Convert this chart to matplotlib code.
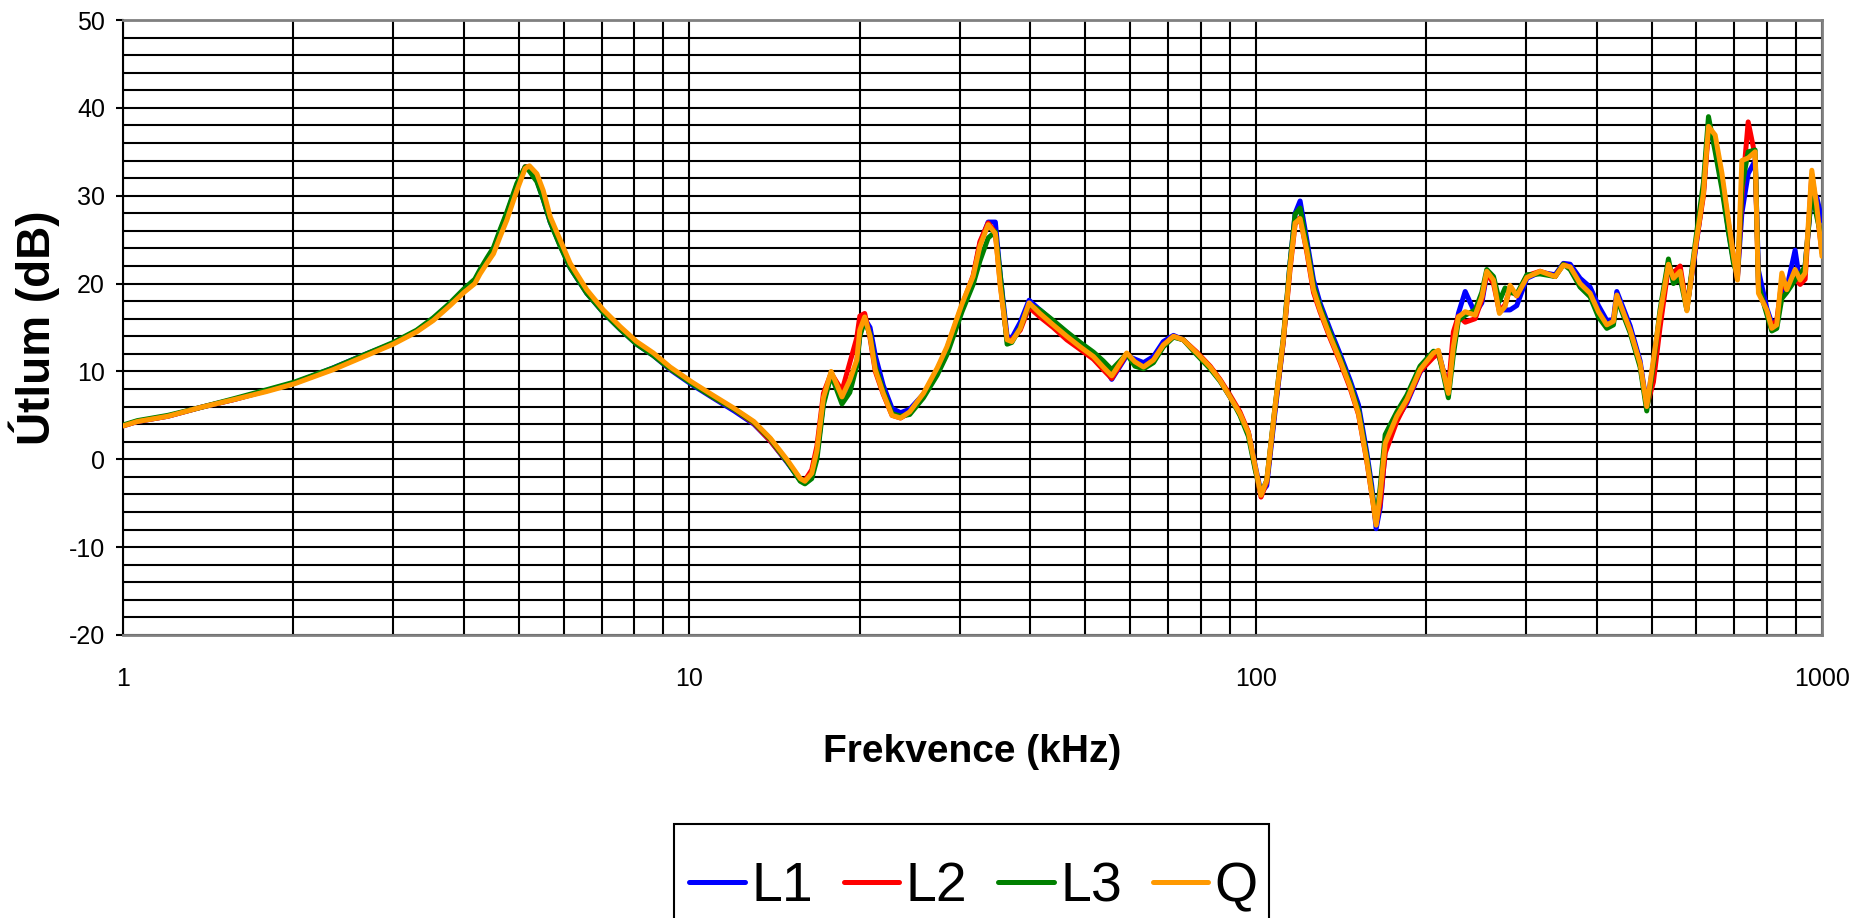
import matplotlib
matplotlib.use('Agg')
import matplotlib.pyplot as plt
from matplotlib.patches import Rectangle
from matplotlib.ticker import FixedLocator, MultipleLocator, LogLocator, NullFormatter, FixedFormatter

plt.rcParams['font.family'] = ['Liberation Sans', 'DejaVu Sans']
plt.rcParams['axes.unicode_minus'] = False

# ---------------- data ----------------
freq_khz = [
    1.00, 1.06, 1.20, 1.37, 1.57, 1.79, 2.01, 2.35, 2.69, 3.00, 3.30, 3.53, 3.78, 4.00,
    4.18, 4.27, 4.39, 4.51, 4.63, 4.76, 4.96, 5.13, 5.22, 5.38, 5.52, 5.68, 5.91, 6.16,
    6.59, 7.05, 7.55, 8.07, 8.64, 9.25,
    10.1, 11.0, 12.0, 13.0, 13.9, 14.9, 15.7, 16.0, 16.45, 16.8, 17.25, 17.8, 18.6, 19.2,
    19.75, 20.0, 20.4, 20.85, 21.3, 22.0, 22.8, 23.6, 24.5, 25.9, 27.4, 28.5, 30.3, 31.7,
    32.6, 33.7, 34.7, 35.4, 36.4, 37.1, 38.4, 39.8, 41.6, 43.9, 46.4, 49.0, 51.7, 53.8,
    55.7, 59.2, 61.2, 63.4, 66.0, 68.7, 71.6, 74.5, 78.7, 83.1, 86.5, 90.1, 93.8, 97.1,
    99.8,
    102.2, 104.6, 108.2, 111.9, 115.0, 117.4, 119.8, 123.1, 126.5, 129.9, 135.3, 140.9,
    146.8, 151.9, 157.1, 160.3, 163.2, 165.9, 169.3, 177.5, 184.9, 195.1, 206.0, 210.2,
    218.9, 223.4, 228.0, 234.4, 244.1, 250.8, 255.9, 263.0, 269.4, 275.7, 281.3, 289.1,
    301.2, 317.9, 337.9, 349.4, 359.2, 374.0, 389.5, 402.9, 416.9, 428.3, 434.2, 458.3,
    477.3, 490.4, 503.9, 517.6, 535.6, 546.6, 561.7, 577.3, 597.0, 617.5, 630.3, 647.7,
    665.6, 683.8, 697.8, 709.2, 721.9, 740.7, 762.0, 772.3, 798.9, 815.3, 832.1, 849.2,
    866.7, 896.4, 915.0, 933.7, 959.4, 979.0, 1000.0,
]

q_db = [
    3.8, 4.3, 4.9, 5.9, 6.8, 7.7, 8.6, 10.2, 11.8, 13.1, 14.5, 15.8, 17.5, 19.0,
    20.0, 21.1, 22.3, 23.4, 25.3, 27.2, 30.6, 33.1, 33.4, 32.5, 30.6, 27.6, 25.0, 22.3,
    19.3, 17.0, 15.1, 13.4, 12.1, 10.5,
    8.8, 7.3, 5.8, 4.3, 2.4, -0.1, -2.2, -2.5, -1.6, 1.0, 7.0, 10.0, 7.1, 9.0,
    11.3, 14.7, 16.2, 14.0, 10.2, 7.5, 5.0, 4.7, 5.4, 7.5, 10.4, 12.8, 17.7, 20.8,
    24.3, 26.7, 25.7, 19.7, 13.6, 13.4, 14.9, 17.8, 16.6, 15.3, 14.0, 12.8, 11.7, 10.5,
    9.5, 12.1, 11.1, 10.5, 11.3, 13.0, 14.0, 13.6, 12.1, 10.5, 9.0, 7.1, 5.2, 3.0,
    -0.8,
    -4.1, -2.4, 6.0, 13.6, 21.9, 26.9, 27.4, 23.8, 19.3, 17.0, 14.0, 11.3,
    8.3, 5.2, -0.1, -3.9, -7.5, -3.9, 1.8, 4.9, 6.8, 10.2, 12.1, 12.4,
    7.5, 12.8, 16.2, 16.8, 16.4, 18.5, 21.4, 20.4, 16.6, 17.4, 19.8, 18.6,
    20.7, 21.4, 20.8, 22.1, 21.9, 20.0, 18.9, 16.8, 15.3, 15.7, 18.7, 14.7,
    10.9, 6.0, 11.3, 16.6, 22.2, 20.6, 21.4, 16.9, 24.0, 30.3, 37.9, 36.9,
    32.6, 27.2, 23.1, 20.4, 34.0, 34.3, 35.0, 18.9, 17.0, 14.9, 15.3, 21.2,
    19.3, 21.6, 20.4, 21.2, 32.9, 28.8, 23.1,
]

l1_db = [
    3.8, 4.3, 4.9, 5.9, 6.8, 7.8, 8.7, 10.4, 12.0, 13.2, 14.6, 16.0, 17.7, 19.2,
    20.3, 21.4, 22.7, 23.9, 25.9, 27.9, 31.2, 33.2, 33.2, 31.8, 29.6, 27.0, 24.4, 21.8,
    18.9, 16.7, 14.8, 13.1, 11.8, 10.2,
    8.5, 7.0, 5.5, 4.0, 2.1, -0.4, -2.4, -2.5, -1.8, 0.5, 6.5, 9.8, 7.0, 8.8,
    11.0, 14.2, 16.0, 15.0, 11.8, 8.4, 5.8, 5.3, 5.7, 7.4, 10.0, 12.4, 17.3, 20.6,
    24.6, 27.0, 27.0, 21.0, 14.0, 13.8, 15.6, 18.1, 17.0, 15.7, 14.4, 13.0, 12.1, 10.8,
    9.1, 11.8, 11.4, 11.0, 11.7, 13.4, 14.1, 13.6, 12.1, 10.5, 9.0, 7.1, 5.2, 3.0,
    -0.7,
    -3.8, -3.0, 5.4, 13.4, 22.3, 28.0, 29.4, 25.0, 20.4, 17.8, 14.8, 12.0,
    9.0, 6.2, 0.8, -3.0, -7.9, -5.5, 1.0, 4.6, 6.4, 9.9, 11.9, 12.3,
    7.8, 12.5, 16.6, 19.1, 16.6, 17.8, 21.1, 20.6, 17.0, 17.0, 17.0, 17.5,
    20.6, 21.3, 21.0, 22.3, 22.2, 20.6, 19.6, 17.5, 15.8, 15.9, 19.1, 15.2,
    11.2, 6.1, 11.0, 16.4, 22.0, 20.5, 21.2, 17.3, 23.5, 30.5, 38.0, 35.5,
    31.5, 26.0, 22.6, 20.8, 28.0, 32.5, 34.0, 21.5, 17.2, 15.5, 15.8, 18.8,
    19.5, 23.8, 20.0, 22.0, 30.5, 29.8, 27.2,
]

l2_db = [
    3.8, 4.3, 4.9, 5.9, 6.8, 7.8, 8.7, 10.3, 11.9, 13.2, 14.6, 15.9, 17.6, 19.2,
    20.3, 21.4, 22.6, 23.8, 25.8, 27.8, 31.1, 33.3, 33.3, 32.0, 30.0, 27.2, 24.6, 22.0,
    19.0, 16.8, 14.9, 13.2, 11.9, 10.3,
    8.7, 7.1, 5.7, 4.1, 2.1, -0.3, -2.3, -2.4, -1.2, 1.5, 7.5, 9.8, 7.8, 11.0,
    13.8, 16.3, 16.6, 13.8, 10.0, 7.4, 5.0, 4.7, 5.3, 7.3, 10.2, 12.6, 17.5, 20.9,
    24.8, 26.9, 25.8, 20.0, 13.5, 13.6, 14.7, 17.3, 16.2, 15.0, 13.6, 12.5, 11.4, 10.2,
    9.2, 12.0, 11.0, 10.5, 11.3, 13.0, 14.0, 13.6, 12.2, 10.6, 9.1, 7.3, 5.4, 3.1,
    -1.0,
    -4.3, -2.6, 5.8, 13.4, 21.6, 26.8, 27.5, 23.6, 19.0, 16.8, 13.8, 11.1,
    8.1, 5.1, -0.2, -4.0, -7.3, -5.0, 0.7, 4.3, 6.6, 10.0, 11.6, 12.0,
    8.0, 14.5, 16.3, 15.6, 16.0, 18.2, 21.2, 20.0, 16.8, 17.6, 19.4, 18.6,
    20.9, 21.4, 20.8, 22.2, 21.8, 19.7, 18.8, 16.5, 15.2, 15.6, 18.5, 14.6,
    10.8, 6.0, 8.8, 15.0, 21.9, 21.2, 22.0, 17.1, 23.8, 30.0, 37.5, 36.0,
    32.0, 26.8, 23.0, 20.6, 30.0, 38.4, 34.5, 19.5, 16.8, 15.2, 15.8, 20.3,
    19.3, 20.5, 19.9, 20.5, 32.4, 28.4, 23.5,
]

l3_db = [
    3.9, 4.4, 5.0, 5.9, 6.9, 7.9, 8.8, 10.4, 12.0, 13.3, 14.7, 16.1, 17.8, 19.4,
    20.5, 21.6, 22.9, 24.1, 26.1, 28.1, 31.4, 33.3, 32.8, 31.6, 29.6, 27.0, 24.3, 21.8,
    18.9, 16.7, 14.8, 13.1, 11.8, 10.3,
    8.6, 7.1, 5.7, 4.2, 2.3, -0.3, -2.5, -2.8, -2.2, 0.0, 6.2, 9.6, 6.3, 7.6,
    10.6, 14.0, 15.8, 14.2, 10.6, 7.8, 5.2, 4.9, 5.1, 7.0, 9.6, 11.9, 16.8, 19.9,
    22.6, 25.2, 25.9, 21.0, 13.1, 13.3, 15.0, 17.6, 17.0, 15.8, 14.5, 13.3, 12.2, 11.2,
    10.2, 12.0, 10.6, 10.3, 11.0, 12.8, 13.9, 13.6, 11.9, 10.3, 8.9, 7.1, 5.0, 2.6,
    -1.2,
    -3.9, -2.4, 6.0, 13.8, 22.4, 27.9, 28.6, 24.4, 19.8, 17.4, 14.4, 11.6,
    8.6, 5.6, 0.3, -3.6, -7.0, -3.2, 2.8, 5.4, 7.3, 10.6, 12.3, 12.2,
    7.0, 11.9, 15.8, 16.4, 17.0, 19.0, 21.6, 20.8, 18.0, 19.5, 19.0, 18.8,
    21.0, 21.1, 20.8, 22.2, 21.6, 19.6, 18.5, 16.2, 14.9, 15.3, 18.3, 14.4,
    10.5, 5.5, 10.8, 17.0, 22.8, 20.0, 20.6, 17.0, 24.5, 31.5, 39.0, 35.0,
    30.8, 25.8, 22.3, 21.0, 31.0, 35.0, 35.2, 19.8, 16.5, 14.6, 14.9, 18.3,
    19.0, 20.4, 21.0, 22.0, 30.6, 27.6, 25.0,
]

series_names = ['L1', 'L2', 'L3', 'Q']
series_colors = ['#0000FF', '#FF0000', '#008000', '#FF9900']
x_tick_values = [1, 10, 100, 1000]
x_tick_labels = ['1', '10', '100', '1000']
y_tick_values = [-20, -10, 0, 10, 20, 30, 40, 50]
x_label = 'Frekvence (kHz)'
y_label = 'Útlum (dB)'

# ---------------- figure ----------------
W, H = 1851, 918
fig = plt.figure(figsize=(W / 100, H / 100), dpi=100)
ax = fig.add_axes([123 / W, 1 - 635 / H, (1822 - 123) / W, (635 - 20) / H])

for vals, name, color in zip([l1_db, l2_db, l3_db, q_db], series_names, series_colors):
    ax.plot(freq_khz, vals, color=color, lw=3.6, label=name,
            solid_joinstyle='round', solid_capstyle='round', zorder=3)

ax.set_xscale('log')
ax.set_xlim(1, 1000)
ax.set_ylim(-20, 50)

ax.xaxis.set_major_locator(FixedLocator(x_tick_values))
ax.xaxis.set_major_formatter(FixedFormatter(x_tick_labels))
ax.xaxis.set_minor_locator(LogLocator(base=10, subs=[2, 3, 4, 5, 6, 7, 8, 9], numticks=20))
ax.xaxis.set_minor_formatter(NullFormatter())
ax.yaxis.set_major_locator(FixedLocator(y_tick_values))
ax.yaxis.set_minor_locator(MultipleLocator(2))

ax.set_axisbelow(True)
ax.grid(True, which='both', axis='both', color='black', lw=1.5)

ax.tick_params(axis='x', which='both', length=0, pad=23, labelsize=18)
ax.tick_params(axis='y', which='major', length=5, width=1.5, direction='out',
               pad=8, labelsize=18, color='black')
ax.tick_params(axis='y', which='minor', length=0)

for side in ['top', 'right', 'bottom']:
    ax.spines[side].set_color('#808080')
    ax.spines[side].set_linewidth(2)
ax.spines['left'].set_color('black')
ax.spines['left'].set_linewidth(1.5)

ax.set_xlabel(x_label, fontsize=28, fontweight='bold', va='center')
ax.xaxis.set_label_coords(0.5, -0.19)
ax.set_ylabel(y_label, fontsize=33, fontweight='bold', va='center', ha='center')
ax.yaxis.set_label_coords((34 - 123) / (1822 - 123), 0.5)

# legend contents (frame drawn separately so it can run off the bottom edge)
leg = fig.legend(loc='center', bbox_to_anchor=(973.5 / W, 1 - 887 / H), ncol=4,
                 fontsize=40, handlelength=1.0, handletextpad=0.12, columnspacing=0.55,
                 borderpad=0.0, frameon=False)
fig.patches.append(Rectangle((674 / W, (H - 980) / H), (1269 - 674) / W, (980 - 824) / H,
                             transform=fig.transFigure, fill=False, edgecolor='black',
                             linewidth=1.5, zorder=1))

fig.savefig('out.png', dpi=100)
